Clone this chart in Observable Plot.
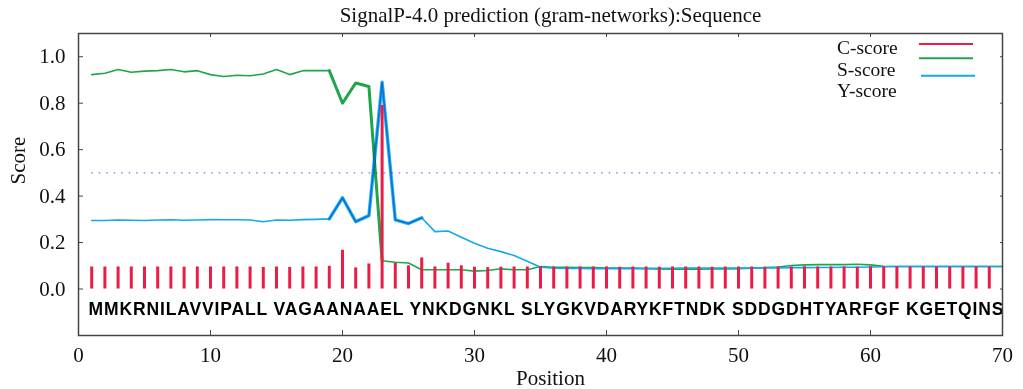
<!DOCTYPE html>
<html><head><meta charset="utf-8">
<script src="https://cdn.jsdelivr.net/npm/d3@7"></script>
<script src="https://cdn.jsdelivr.net/npm/@observablehq/plot@0.6"></script>
<style>html,body{margin:0;padding:0;background:#fff}</style>
</head><body><div id="chart"></div>
<script>
const title = "SignalP-4.0 prediction (gram-networks):Sequence";
const sequence = "MMKRNILAVVIPALL VAGAANAAEL YNKDGNKL SLYGKVDARYKFTNDK SDDGDHTYARFGF KGETQINS";
const xLabel = "Position";
const yLabel = "Score";
const seriesNames = ["C-score", "S-score", "Y-score"];
const seriesColors = ["#ec1c48", "#1fa64a", "#14a9ea"];
const cutoff = 0.5;
const xTicks = [0, 10, 20, 30, 40, 50, 60, 70];
const yTicks = [0, 0.2, 0.4, 0.6, 0.8, 1.0];

// C-score, positions 1..69
const cScore = [
  0.095,0.095,0.095,0.095,0.095,0.095,0.095,0.094,0.095,0.095,
  0.095,0.095,0.095,0.093,0.095,0.093,0.095,0.095,0.098,0.167,
  0.091,0.108,0.790,0.110,0.100,0.134,0.095,0.111,0.100,0.094,
  0.092,0.094,0.095,0.095,0.095,0.095,0.094,0.095,0.095,0.095,
  0.094,0.095,0.095,0.094,0.095,0.095,0.095,0.094,0.095,0.095,
  0.095,0.094,0.095,0.095,0.096,0.095,0.095,0.095,0.094,0.096,
  0.096,0.095,0.095,0.095,0.095,0.095,0.095,0.095,0.095
];
// S-score, positions 1..70
const sScore = [
  0.923,0.929,0.945,0.933,0.938,0.940,0.945,0.935,0.940,0.923,
  0.915,0.920,0.918,0.926,0.945,0.923,0.940,0.940,0.940,0.800,
  0.887,0.872,0.122,0.115,0.112,0.083,0.083,0.083,0.083,0.077,
  0.080,0.087,0.083,0.083,0.097,0.094,0.094,0.093,0.092,0.090,
  0.090,0.090,0.088,0.086,0.085,0.086,0.085,0.087,0.087,0.088,
  0.090,0.092,0.095,0.101,0.104,0.105,0.105,0.105,0.107,0.104,
  0.098,0.097,0.097,0.097,0.097,0.097,0.097,0.097,0.097,0.097
];
// Y-score, positions 1..70
const yScore = [
  0.295,0.295,0.297,0.296,0.295,0.297,0.298,0.296,0.297,0.299,
  0.298,0.298,0.297,0.290,0.297,0.296,0.299,0.300,0.302,0.393,
  0.290,0.316,0.890,0.298,0.282,0.307,0.247,0.250,0.223,0.197,
  0.176,0.161,0.144,0.120,0.094,0.090,0.089,0.089,0.088,0.088,
  0.088,0.088,0.089,0.089,0.089,0.090,0.090,0.090,0.090,0.090,
  0.090,0.091,0.091,0.092,0.092,0.093,0.093,0.094,0.094,0.095,
  0.096,0.097,0.097,0.097,0.097,0.097,0.097,0.097,0.097,0.097
];

const toRows = arr => arr.map((v, i) => ({pos: i + 1, v}));
const cData = toRows(cScore);
const sData = toRows(sScore);
const yData = toRows(yScore);
const firstPos = d3.min(sData, d => d.pos);
const lastPos = d3.max(sData, d => d.pos);
// the region around the cleavage site is drawn with a heavier stroke
const sPeak = sData.filter(d => d.pos >= 19 && d.pos <= 23);
const yPeak = yData.filter(d => d.pos >= 19 && d.pos <= 26);

function legendMark(...args) {
  const dims = args.find(a => a && typeof a === "object" && "marginLeft" in a && "width" in a);
  const right = dims.width - dims.marginRight;
  const top = dims.marginTop;
  const g = d3.create("svg:g").attr("font-family", "'Liberation Serif', serif").attr("font-size", 19.5).attr("text-anchor", "start");
  const textDy = [21, 42.7, 64.3];
  const lineDy = [11, 25.3, 42.7];
  seriesNames.forEach((name, i) => {
    g.append("text").attr("x", right - 165).attr("y", top + textDy[i]).attr("fill", "#111").attr("text-anchor", "start").text(name);
    g.append("line").attr("x1", right - 83 + (i === 2 ? 2 : 0)).attr("x2", right - 29 + (i === 2 ? 2 : 0))
      .attr("y1", top + lineDy[i]).attr("y2", top + lineDy[i])
      .attr("stroke", seriesColors[i]).attr("stroke-width", 2);
  });
  return g.node();
}

const chart = Plot.plot({
  width: 1023,
  height: 389,
  marginLeft: 78,
  marginRight: 21,
  marginTop: 33,
  marginBottom: 54,
  x: {domain: [0, 70]},
  y: {domain: [-0.2, 1.1]},
  style: {fontFamily: "'Liberation Serif', 'Times New Roman', serif", fontSize: "21px", color: "#111", background: "#fff", overflow: "visible"},
  marks: [
    Plot.ruleY([cutoff], {x1: firstPos, x2: lastPos, stroke: "#9a62cc", strokeWidth: 1.4, strokeDasharray: "1.5,6"}),
    Plot.line(sData, {x: "pos", y: "v", stroke: seriesColors[1], strokeWidth: 1.6}),
    Plot.line(sPeak, {x: "pos", y: "v", stroke: seriesColors[1], strokeWidth: 3}),
    Plot.line(yData, {x: "pos", y: "v", stroke: seriesColors[2], strokeWidth: 1.6}),
    Plot.line(yPeak, {x: "pos", y: "v", stroke: seriesColors[2], strokeWidth: 3.4, mixBlendMode: "multiply", strokeOpacity: 0.9}),
    Plot.ruleX(cData, {x: "pos", y1: 0, y2: "v", stroke: seriesColors[0], strokeWidth: 3}),
    Plot.text([sequence], {frameAnchor: "bottom-left", dx: 10, dy: -26, lineAnchor: "middle", textAnchor: "start",
      text: d => d, fontFamily: "'Liberation Sans', Arial, sans-serif", fontWeight: "bold", fontSize: 17.5, fill: "#000"}),
    Plot.frame({stroke: "#444", strokeWidth: 1.5}),
    Plot.axisX(xTicks, {anchor: "bottom", tickSize: -5, tickPadding: 17, label: null, stroke: "#444", fill: "#111"}),
    Plot.axisX(xTicks, {anchor: "top", tickSize: -3, tickFormat: () => "", label: null, stroke: "#444"}),
    Plot.axisY(yTicks, {anchor: "left", tickSize: -5, tickPadding: 18, tickFormat: d => d.toFixed(1), label: null, stroke: "#444", fill: "#111"}),
    Plot.axisY(yTicks, {anchor: "right", tickSize: -3, tickFormat: () => "", label: null, stroke: "#444"}),
    Plot.text([title], {frameAnchor: "top", dx: 10, dy: -18.5, lineAnchor: "middle", text: d => d, fontSize: 21, fill: "#111"}),
    Plot.text([xLabel], {frameAnchor: "bottom", dx: 10, dy: 43, lineAnchor: "middle", text: d => d, fontSize: 21, fill: "#111"}),
    Plot.text([yLabel], {frameAnchor: "left", dx: -60, rotate: -90, lineAnchor: "middle", text: d => d, fontSize: 21, fill: "#111"}),
    legendMark
  ]
});
document.getElementById("chart").appendChild(chart);
// stretch the sequence string across the plot width
const seqText = Array.from(chart.querySelectorAll("text")).find(t => t.textContent === sequence);
if (seqText) {
  seqText.setAttribute("textLength", 915);
  seqText.setAttribute("lengthAdjust", "spacing");
}
</script>
</body></html>
